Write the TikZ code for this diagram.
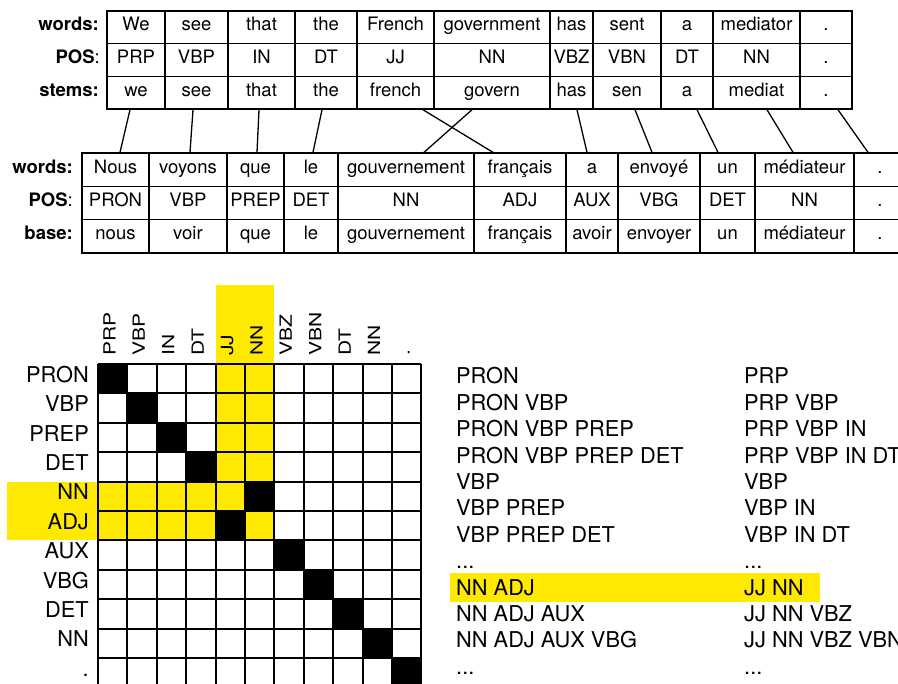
\documentclass[tikz,border=0pt]{standalone}
\usepackage{fontspec}
\setmainfont{TeX Gyre Heros}
\usepackage{graphicx}

\definecolor{hlyellow}{RGB}{255,233,0}
\newcommand{\tdots}{...}

\tikzset{
  cell/.style={draw, line width=1.3pt, inner sep=0pt, text height=0.72em, text depth=0pt,
    font=\fontsize{18.5}{20}\selectfont},
  rowname/.style={anchor=east, inner sep=0pt, text height=0.72em, text depth=0pt,
    font=\fontsize{18.5}{20}\selectfont},
  link/.style={line width=1.3pt},
  tag/.style={inner sep=0pt, text height=0.72em, text depth=0pt, font=\fontsize{21.8}{24}\selectfont},
  coltag/.style={inner sep=0pt, text height=0.576em, text depth=0pt, font=\fontsize{21}{24}\selectfont,
    rotate=90, anchor=west},
  grid line/.style={line width=2pt},
  listitem/.style={anchor=base west, inner sep=0pt, font=\fontsize{21.8}{24}\selectfont}
}

\begin{document}
\begin{tikzpicture}[x=1pt,y=-1pt]
  \useasboundingbox (0,0) rectangle (898,684);
  \clip (0,0) rectangle (898,684);

  % English sentence
  \foreach \n/\xa/\xb/\w/\p/\s in {1/107/165/We/PRP/we, 2/165/228/see/VBP/see,
      3/228/295/that/IN/that, 4/295/357/the/DT/the, 5/357/434/French/JJ/french,
      6/434/550/government/NN/govern, 7/550/593/has/VBZ/has, 8/593/661/sent/VBN/sen,
      9/661/713/a/DT/a, 10/713/800/mediator/NN/mediat, 11/800/852/././.} {
    \node[cell, minimum width=\xb-\xa, minimum height=32.7] (w\n) at ({(\xa+\xb)/2},27.35) {\w};
    \node[cell, minimum width=\xb-\xa, minimum height=32.7] (p\n) at ({(\xa+\xb)/2},60.05) {\p};
    \node[cell, minimum width=\xb-\xa, minimum height=32.7] (s\n) at ({(\xa+\xb)/2},92.75) {\s};
  }
  \node[rowname] (enwords) at (99,27.35) {\textbf{words:}};
  \node[rowname] (enpos) at (100,60.05) {\textbf{POS}:};
  \node[rowname] (enstems) at (99,92.75) {\textbf{stems:}};

  % French sentence
  \foreach \n/\xa/\xb/\w/\p/\s in {1/82/149/Nous/PRON/nous, 2/149/227/voyons/VBP/voir,
      3/227/284/que/PREP/que, 4/284/338/le/DET/le, 5/338/474/gouvernement/NN/gouvernement,
      6/474/566/français/ADJ/français, 7/566/618/a/AUX/avoir, 8/618/700/envoyé/VBG/envoyer,
      9/700/755/un/DET/un, 10/755/854/médiateur/NN/médiateur, 11/854/906/././.} {
    \node[cell, minimum width=\xb-\xa, minimum height=33.3] (fw\n) at ({(\xa+\xb)/2},169.65) {\w};
    \node[cell, minimum width=\xb-\xa, minimum height=33.3] (fp\n) at ({(\xa+\xb)/2},202.95) {\p};
    \node[cell, minimum width=\xb-\xa, minimum height=33.3] (fb\n) at ({(\xa+\xb)/2},236.25) {\s};
  }
  \node[rowname] (frwords) at (73,169.65) {\textbf{words:}};
  \node[rowname] (frpos) at (73,202.95) {\textbf{POS}:};
  \node[rowname] (frbase) at (73,236.25) {\textbf{base:}};

  % alignment links
  \foreach \a/\b/\da/\db in {1/1/-6/4.5, 2/2/-3.5/2, 3/3/-2.5/1.5, 4/4/-4/2,
      5/6/27.5/-27, 6/5/-20/18, 7/7/5.5/-5, 8/8/8/-7, 9/9/10/-9.5,
      10/10/10.5/-11.5, 11/11/12/-12}
    \draw[link] ([xshift=\da pt]s\a.south) -- ([xshift=\db pt]fw\b.north);

  % alignment matrix
  \def\cw{29.4}
  \begin{scope}[shift={(98,364)}]
    \fill[hlyellow] ({4*\cw},-79) rectangle ({6*\cw},{4*\cw});
    \fill[hlyellow] (-91,{4*\cw}) rectangle ({6*\cw},{6*\cw});
    \foreach \r/\c in {0/0,1/1,2/2,3/3,4/5,5/4,6/6,7/7,8/8,9/9,10/10}
      \fill ({\c*\cw},{\r*\cw}) rectangle ++(\cw,\cw);
    \foreach \i in {0,...,11} {
      \draw[grid line] ({\i*\cw},0) -- ({\i*\cw},{11*\cw});
      \draw[grid line] (0,{\i*\cw}) -- ({11*\cw},{\i*\cw});
    }
    \foreach \t [count=\c from 0] in {PRP,VBP,IN,DT,JJ,NN,VBZ,VBN,DT,NN,.}
      \node[coltag] (col\c) at ({(\c+0.5)*\cw},-8) {\scalebox{1}[0.8]{\t}};
    \foreach \t [count=\r from 0] in {PRON,VBP,PREP,DET,NN,ADJ,AUX,VBG,DET,NN,.}
      \node[tag, anchor=east] (row\r) at (-9,{(\r+0.5)*\cw}) {\t};
  \end{scope}

  % tag sequences
  \fill[hlyellow] (450,573) rectangle (820,602);
  \foreach \a/\b [count=\k from 0] in {PRON/PRP, PRON VBP/PRP VBP,
      PRON VBP PREP/PRP VBP IN, PRON VBP PREP DET/PRP VBP IN DT, VBP/VBP,
      VBP PREP/VBP IN, VBP PREP DET/VBP IN DT, \tdots/\tdots, NN ADJ/JJ NN,
      NN ADJ AUX/JJ NN VBZ, NN ADJ AUX VBG/JJ NN VBZ VBN, \tdots/\tdots} {
    \node[listitem] (fr\k) at (456,{384+26.4*\k}) {\a};
    \node[listitem] (en\k) at (744,{384+26.4*\k}) {\b};
  }
\end{tikzpicture}
\end{document}
